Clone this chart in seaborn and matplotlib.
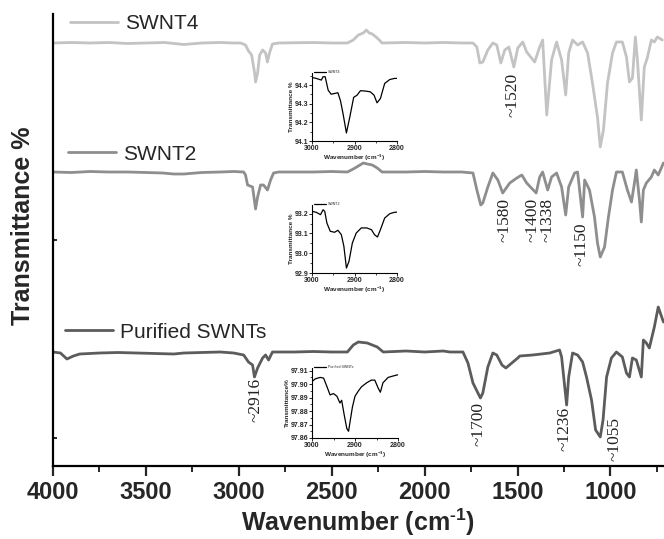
import matplotlib
matplotlib.use("Agg")
import matplotlib.pyplot as plt
import numpy as np
import pandas as pd
import seaborn as sns
from matplotlib.legend import Legend
from matplotlib.lines import Line2D
from matplotlib.ticker import MultipleLocator, FixedLocator, NullFormatter, FormatStrFormatter

sns.set_style("ticks")
plt.rcParams["font.family"] = ["Liberation Sans", "DejaVu Sans"]
plt.rcParams["mathtext.fontset"] = "custom"
plt.rcParams["mathtext.rm"] = "Liberation Sans"
plt.rcParams["mathtext.bf"] = "Liberation Sans:bold"

# ---- FTIR spectra (wavenumber in cm^-1, transmittance in arbitrary units; 0 = baseline) ----
samples = ["SWNT4", "SWNT2", "Purified SWNTs"]

swnt4_wn = [4000, 3900, 3800, 3700, 3600, 3500, 3400, 3296, 3200, 3100, 3028, 2990, 2964, 2948,
            2931, 2915, 2910, 2899, 2888, 2872, 2856, 2846, 2835, 2819, 2786, 2600, 2500, 2416,
            2384, 2357, 2330, 2314, 2298, 2282, 2255, 2229, 2100, 2000, 1900, 1800, 1740, 1719,
            1703, 1687, 1660, 1633, 1612, 1590, 1569, 1547, 1520, 1499, 1472, 1451, 1408, 1381,
            1365, 1343, 1317, 1290, 1263, 1241, 1225, 1204, 1177, 1150, 1123, 1097, 1070, 1055,
            1038, 1016, 989, 968, 936, 914, 898, 882, 866, 855, 834, 818, 802, 780, 764, 748, 721]
swnt4_t = [0, 0.5, 0, 0.5, -0.5, 0, 0.5, -1.5, 0, 0.5, 0, 0, -2, -8,
           -12, -30, -39, -30, -12, -7, -10, -19, -10, -1, 0, 0.5, 0, 0,
           3, 8, 10, 13, 10, 9, 5, 0, 0.5, 0, 0.5, 0, 0, -4,
           -20, -19, -7, 0, -2, -20, -7, -4, -24, -5, 1, -9, -19, -4,
           3, -72, -17, 1, -17, -52, -10, 3, -2, 1, -10, -40, -74, -104,
           -87, -40, -10, 1, 1, -14, -39, -35, 6, -17, -77, -24, -15, 3, 1, 6, 3]

swnt2_wn = [4000, 3900, 3800, 3700, 3600, 3500, 3410, 3350, 3296, 3200, 3100, 3028, 2974, 2964,
            2953, 2926, 2910, 2899, 2883, 2867, 2846, 2829, 2813, 2786, 2600, 2500, 2416, 2384,
            2357, 2330, 2309, 2282, 2255, 2229, 2100, 2000, 1900, 1800, 1740, 1719, 1698, 1687,
            1660, 1633, 1606, 1580, 1542, 1504, 1477, 1451, 1400, 1381, 1365, 1338, 1317, 1290,
            1263, 1241, 1225, 1193, 1177, 1150, 1139, 1113, 1086, 1070, 1055, 1032, 1011, 989,
            968, 936, 909, 887, 871, 861, 844, 834, 823, 807, 780, 764, 743, 715]
swnt2_t = [0, -0.5, 0.5, 0, 0, -0.5, -1, -2, -2, -0.5, 0, 0.5, 0, -3,
           -13, -15, -37, -25, -13, -13, -18, -8, -1, 0, 0, 0.5, 0, 3,
           6, 9, 8, 7, 4, 0, 0, 0.5, 0, 0, -1, -18, -33, -31,
           -15, -1, -8, -21, -11, -6, -3, -11, -21, -5, 0, -18, -5, -1,
           -15, -43, -15, -1, 0, -45, -8, -18, -45, -71, -85, -75, -45, -18,
           0, 0, -18, -30, -11, 2, -28, -50, -18, -11, -5, 2, -3, 9]

pur_wn = [4000, 3960, 3925, 3890, 3856, 3750, 3650, 3550, 3450, 3350, 3296, 3200, 3100, 3028,
          2974, 2948, 2926, 2916, 2899, 2872, 2856, 2840, 2819, 2700, 2600, 2500, 2416, 2384,
          2357, 2309, 2255, 2223, 2100, 2000, 1900, 1864, 1794, 1767, 1740, 1700, 1687, 1660,
          1633, 1612, 1584, 1563, 1531, 1499, 1488, 1418, 1327, 1274, 1263, 1236, 1225, 1204,
          1177, 1150, 1129, 1102, 1080, 1055, 1040, 1021, 995, 968, 936, 914, 898, 882,
          861, 834, 823, 807, 791, 764, 743, 715]
pur_t = [0, -1, -7, -4, -2, -1, -0.5, -1, -1.5, -2, -1, -0.5, 0, -1,
         -3, -10, -13, -25, -16, -6, -3, -8, 0, 0, 0.5, 0, 0, 7,
         10, 9, 5, 0, 1, 0, 1, 0, 0, -11, -31, -46, -41, -15,
         -1, -3, -13, -16, -11, -6, -4, -3, -1, 2, -5, -53, -25, -1,
         -3, -10, -25, -48, -78, -85, -68, -25, -6, 0, -5, -21, -25, -6,
         -8, -25, 12, 9, 4, 25, 45, 30]

# vertical stacking of the three traces
stack_offsets = {"SWNT4": 423, "SWNT2": 294, "Purified SWNTs": 114}
colors = {"SWNT4": "#c3c3c3", "SWNT2": "#8e8e8e", "Purified SWNTs": "#5c5c5c"}

# ---- zoomed C-H stretching region (inset panels) ----
in4_wn = [3000, 2990, 2978, 2974, 2969, 2962, 2955, 2947, 2939, 2933, 2927, 2919, 2911, 2902,
          2894, 2886, 2874, 2863, 2854, 2847, 2839, 2829, 2817, 2806, 2800]
in4_t = [94.441, 94.436, 94.427, 94.445, 94.445, 94.373, 94.351, 94.355, 94.359, 94.316, 94.247,
         94.143, 94.229, 94.334, 94.346, 94.370, 94.368, 94.364, 94.346, 94.305, 94.328, 94.409,
         94.430, 94.436, 94.436]

in2_wn = [3000, 2990, 2980, 2974, 2970, 2965, 2957, 2947, 2939, 2931, 2925, 2919, 2913, 2905,
          2896, 2884, 2871, 2860, 2853, 2846, 2839, 2829, 2817, 2806, 2800]
in2_t = [93.212, 93.207, 93.195, 93.220, 93.212, 93.153, 93.111, 93.106, 93.116, 93.094, 93.035,
         92.925, 92.959, 93.052, 93.102, 93.128, 93.128, 93.119, 93.094, 93.082, 93.119, 93.178,
         93.200, 93.207, 93.208]

inp_wn = [3000, 2992, 2981, 2973, 2965, 2958, 2950, 2942, 2935, 2931, 2925, 2919, 2915, 2912,
          2906, 2900, 2892, 2885, 2873, 2862, 2854, 2846, 2841, 2835, 2823, 2812, 2800]
inp_t = [97.902, 97.904, 97.905, 97.9045, 97.898, 97.892, 97.893, 97.891, 97.886, 97.888, 97.877,
         97.867, 97.865, 97.871, 97.883, 97.891, 97.895, 97.898, 97.901, 97.903, 97.903, 97.897,
         97.894, 97.901, 97.905, 97.906, 97.907]

# peak assignments: (label, wavenumber, top of text, horizontal nudge in px)
peak_labels = [("~2916", 2916, 88, 1), ("~1700", 1700, 64, -2), ("~1236", 1236, 59, -2),
               ("~1055", 1055, 49, 14), ("~1520", 1520, 393, -1), ("~1580", 1580, 268, 2),
               ("~1400", 1400, 268, -4), ("~1338", 1338, 268, 0), ("~1150", 1150, 243, -1)]

frames = []
for name, wn, t in [("SWNT4", swnt4_wn, swnt4_t), ("SWNT2", swnt2_wn, swnt2_t),
                    ("Purified SWNTs", pur_wn, pur_t)]:
    frames.append(pd.DataFrame({"wn": wn, "T": np.array(t, float) + stack_offsets[name],
                                "sample": name}))
spectra = pd.concat(frames, ignore_index=True)

W, H = 664, 539
fig = plt.figure(figsize=(W / 100, H / 100), dpi=100)
ax = fig.add_axes([53 / W, 73 / H, 1 - 53 / W, 452 / H])

sns.lineplot(data=spectra, x="wn", y="T", hue="sample", palette=colors, estimator=None,
             sort=False, legend=False, linewidth=2.0, ax=ax)

ax.set_xlim(4000, 712)
ax.set_ylim(0, 452)
for side in ("top", "right"):
    ax.spines[side].set_visible(False)
for side in ("left", "bottom"):
    ax.spines[side].set_linewidth(1.6)
    ax.spines[side].set_color("black")

ax.xaxis.set_major_locator(FixedLocator([4000, 3500, 3000, 2500, 2000, 1500, 1000]))
ax.xaxis.set_minor_locator(MultipleLocator(250))
ax.yaxis.set_major_locator(FixedLocator([28, 226, 423]))
ax.yaxis.set_major_formatter(NullFormatter())
ax.tick_params(axis="x", which="major", direction="out", length=7, width=1.6, pad=4,
               labelsize=17)
ax.tick_params(axis="x", which="minor", direction="out", length=4, width=1.4)
ax.tick_params(axis="y", which="major", direction="in", length=3, width=1.4)
for lab in ax.get_xticklabels():
    lab.set_fontweight("bold")

ax.set_xlabel("Wavenumber (cm$\\mathbf{^{\u20101}}$)", fontsize=18, fontweight="bold",
              labelpad=2)
ax.set_ylabel("Transmittance %", fontsize=18, fontweight="bold")
ax.yaxis.set_label_coords(-0.03, 0.531)

# legend entries sitting just above each trace
legend_pos = {"SWNT4": (0.028, 0.978), "SWNT2": (0.0245, 0.690), "Purified SWNTs": (0.0196, 0.296)}
for name in samples:
    handle = Line2D([], [], color=colors[name], lw=2.0)
    leg = Legend(ax, [handle], [name], loc="center left", bbox_to_anchor=legend_pos[name],
                 frameon=False, fontsize=15, handlelength=2.3, handletextpad=0.35,
                 borderpad=0, borderaxespad=0)
    ax.add_artist(leg)

for text, wn, ytop, dx in peak_labels:
    ax.annotate(text, xy=(wn, ytop), xytext=(dx, 0), textcoords="offset pixels",
                rotation=90, ha="center", va="top", fontsize=12.5,
                family=["Liberation Serif", "DejaVu Serif"], color="#222222")

# inset panels
insets = [
    ("SWNT4", in4_wn, in4_t, [312, 141, 85, 68], (94.1, 94.465), 0.1, "Transmittance %"),
    ("SWNT2", in2_wn, in2_t, [312, 273, 85, 68], (92.9, 93.244), 0.1, "Transmittance %"),
    ("Purified SWNTs", inp_wn, inp_t, [312, 438, 86, 70], (97.86, 97.912), 0.01,
     "Transmittance%"),
]
for name, wn, t, (l, b, w, h), ylim, ystep, ylab in insets:
    iax = fig.add_axes([l / W, (H - b) / H, w / W, h / H])
    sns.lineplot(x=wn, y=t, color="black", linewidth=0.9, estimator=None, sort=False, ax=iax)
    iax.set_xlim(3000, 2800)
    iax.set_ylim(*ylim)
    iax.patch.set_alpha(0)
    for side in ("top", "right"):
        iax.spines[side].set_visible(False)
    for side in ("left", "bottom"):
        iax.spines[side].set_linewidth(0.8)
        iax.spines[side].set_color("black")
    iax.xaxis.set_major_locator(FixedLocator([3000, 2900, 2800]))
    iax.xaxis.set_minor_locator(MultipleLocator(50))
    iax.yaxis.set_major_locator(MultipleLocator(ystep))
    iax.yaxis.set_minor_locator(MultipleLocator(ystep / 2))
    iax.yaxis.set_major_formatter(FormatStrFormatter("%.2f" if ystep < 0.05 else "%.1f"))
    iax.tick_params(which="major", direction="out", length=2, width=0.7, pad=0.8, labelsize=5)
    iax.tick_params(which="minor", direction="out", length=1.2, width=0.6)
    for lab in iax.get_xticklabels() + iax.get_yticklabels():
        lab.set_fontweight("bold")
    iax.set_xlabel(r"Wavenumber (cm$\mathbf{^{-1}}$)", fontsize=4.6, fontweight="bold",
                   labelpad=0.5)
    iax.set_ylabel(ylab, fontsize=4.6, fontweight="bold", labelpad=0.5)
    iax.legend([Line2D([], [], color="black", lw=0.9)], [name], loc="upper left",
               bbox_to_anchor=(0.02, 1.04), frameon=False, fontsize=2.6, handlelength=3.5,
               handletextpad=0.4, borderpad=0, borderaxespad=0)

fig.savefig("out.png", dpi=100)
